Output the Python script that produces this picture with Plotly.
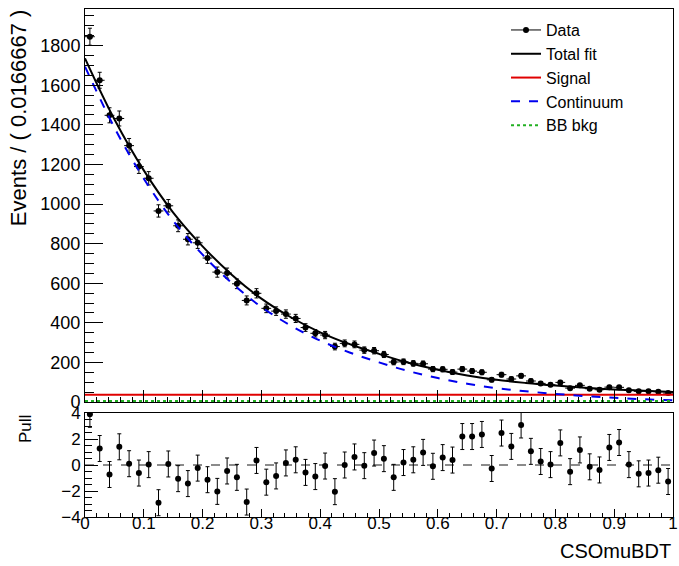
import numpy as np
import plotly.graph_objects as go

# ---------------- data ----------------
n_bins = 60
x_min, x_max = 0.0, 1.0
bin_width = (x_max - x_min) / n_bins
bin_centers = [x_min + (i + 0.5) * bin_width for i in range(n_bins)]

data_counts = [1845, 1625, 1448, 1432, 1295, 1189, 1130, 965, 991, 890,
               822, 804, 727, 656, 651, 597, 513, 549, 473, 459,
               444, 422, 376, 347, 338, 280, 296, 291, 262, 259,
               240, 202, 203, 195, 193, 166, 165, 151, 166, 156,
               150, 112, 138, 116, 132, 106, 94, 87, 99, 70,
               84, 67, 62, 75, 74, 59, 54, 54, 52, 45]

pulls = [3.9, 1.27, -0.73, 1.4, 0.1, -0.62, 0.03, -2.9, 0.08, -1.05,
         -1.43, -0.24, -1.13, -2.03, -0.46, -0.95, -2.85, 0.35, -1.32, -0.84,
         0.16, 0.4, -0.57, -0.89, -0.08, -2.05, 0.0, 0.62, -0.05, 0.92,
         0.49, -0.95, 0.19, 0.4, 0.97, -0.1, 0.57, 0.38, 2.19, 2.19,
         2.35, -0.27, 2.46, 1.43, 3.08, 1.05, 0.27, 0.03, 1.7, -0.51,
         1.16, -0.14, -0.38, 1.35, 1.73, 0.03, -0.68, -0.62, -0.4, -1.27]

curve_x = [0.00, 0.05, 0.10, 0.15, 0.20, 0.25, 0.30, 0.35, 0.40, 0.45, 0.50,
           0.55, 0.60, 0.65, 0.70, 0.75, 0.80, 0.85, 0.90, 0.95, 1.00]
total_fit = [1736, 1428, 1170, 957, 786, 642, 522, 428, 352, 292, 243,
             198, 163, 134, 112, 96, 83, 72, 63, 57, 51]
continuum = [1694, 1386, 1128, 915, 744, 600, 480, 386, 310, 250, 200,
             156, 121, 92, 70, 54, 41, 30, 21, 14, 8]
signal = [37, 37, 37, 37, 37, 37, 37, 37, 37, 37, 37,
          37, 37, 37, 37, 37, 37, 37, 37, 37, 37]
bb_bkg = [5, 5, 5, 5, 5, 5, 5, 5, 5, 5, 5,
          5, 5, 5, 5, 5, 5, 5, 5, 5, 5]

x_tick_vals = [0, 0.1, 0.2, 0.3, 0.4, 0.5, 0.6, 0.7, 0.8, 0.9, 1]
x_tick_text = ["0", "0.1", "0.2", "0.3", "0.4", "0.5", "0.6", "0.7", "0.8", "0.9", "1"]

y_title = "Events / ( 0.0166667 )"
x_title = "CSOmuBDT"
pull_title = "Pull"

# ---------------- figure ----------------
FONT = "Liberation Sans, Arial, sans-serif"
data_err = [float(np.sqrt(v)) for v in data_counts]

fig = go.Figure()

# upper panel
fig.add_trace(go.Scatter(
    x=bin_centers, y=data_counts, mode="markers", name="Data",
    marker=dict(color="black", size=6), showlegend=False,
    error_y=dict(type="data", array=data_err, color="black", thickness=1, width=2),
    error_x=dict(type="constant", value=bin_width / 2, color="black", thickness=1, width=0),
    xaxis="x", yaxis="y"))
fig.add_trace(go.Scatter(
    x=[None], y=[None], mode="lines+markers", name="Data",
    line=dict(color="black", width=1), marker=dict(color="black", size=6),
    xaxis="x", yaxis="y"))
fig.add_trace(go.Scatter(
    x=curve_x, y=total_fit, mode="lines", name="Total fit",
    line=dict(color="black", width=2, shape="spline"), xaxis="x", yaxis="y"))
fig.add_trace(go.Scatter(
    x=curve_x, y=signal, mode="lines", name="Signal",
    line=dict(color="#e00000", width=2), xaxis="x", yaxis="y"))
fig.add_trace(go.Scatter(
    x=curve_x, y=continuum, mode="lines", name="Continuum",
    line=dict(color="#0000ee", width=2, dash="dash", shape="spline"), xaxis="x", yaxis="y"))
fig.add_trace(go.Scatter(
    x=curve_x, y=bb_bkg, mode="lines", name="BB bkg",
    line=dict(color="#22b022", width=2, dash="dot"), xaxis="x", yaxis="y"))

# pull panel
fig.add_trace(go.Scatter(
    x=bin_centers, y=pulls, mode="markers", showlegend=False,
    marker=dict(color="black", size=6),
    error_y=dict(type="constant", value=1, color="black", thickness=1, width=2),
    xaxis="x2", yaxis="y2"))

axis_common = dict(showline=True, linecolor="black", linewidth=1, mirror=True,
                   ticks="inside", tickcolor="black", showgrid=False, zeroline=False,
                   automargin=False,
                   tickfont=dict(family=FONT, size=17, color="black"))
axis_notext = {k: v for k, v in axis_common.items() if k != "tickfont"}

fig.update_layout(
    width=679, height=566,
    margin=dict(l=85, r=6, t=9, b=49),
    paper_bgcolor="white", plot_bgcolor="white",
    font=dict(family=FONT, color="black"),
    xaxis=dict(domain=[0, 1], range=[x_min, x_max], anchor="y",
               tickvals=x_tick_vals, showticklabels=False, ticklen=12,
               minor=dict(dtick=0.02, ticklen=5, ticks="inside", tickcolor="black"),
               **axis_notext),
    yaxis=dict(domain=[0.2264, 1], range=[0, 1985], anchor="x", dtick=200, ticklen=18,
               minor=dict(dtick=50, ticklen=9, ticks="inside", tickcolor="black"),
               tickfont=dict(family=FONT, size=18, color="black"),
               **axis_notext),
    xaxis2=dict(domain=[0, 1], range=[x_min, x_max], anchor="y2",
                tickvals=x_tick_vals, ticktext=x_tick_text, ticklen=8,
                ticklabelstandoff=-9,
                minor=dict(dtick=0.02, ticklen=4, ticks="inside", tickcolor="black"),
                **axis_common),
    yaxis2=dict(domain=[0, 0.2047], range=[-4, 4], anchor="x2", dtick=2, ticklen=13,
                minor=dict(dtick=0.5, ticklen=7, ticks="inside", tickcolor="black"),
                **axis_common),
    legend=dict(x=0.716, y=0.992, xanchor="left", yanchor="top",
                bgcolor="rgba(0,0,0,0)", borderwidth=0,
                font=dict(family=FONT, size=16, color="black")),
    shapes=[dict(type="line", xref="x2 domain", yref="y2", x0=0, x1=1, y0=0, y1=0,
                 line=dict(color="#666666", width=1.5, dash="dash"), layer="below")],
    annotations=[
        dict(text=y_title, xref="paper", yref="paper", x=-0.112, y=1.002,
             xanchor="center", yanchor="top", textangle=-90, showarrow=False,
             font=dict(family=FONT, size=22, color="black")),
        dict(text=pull_title, xref="paper", yref="paper", x=-0.102, y=0.2047,
             xanchor="center", yanchor="top", textangle=-90, showarrow=False,
             font=dict(family=FONT, size=17, color="black")),
        dict(text=x_title, xref="paper", yref="paper", x=1.0, y=-0.066,
             xanchor="right", yanchor="middle", showarrow=False,
             font=dict(family=FONT, size=20, color="black")),
    ],
)

fig.write_html("out.html", config={"displayModeBar": False},
               post_script="document.body.style.margin='0';")
